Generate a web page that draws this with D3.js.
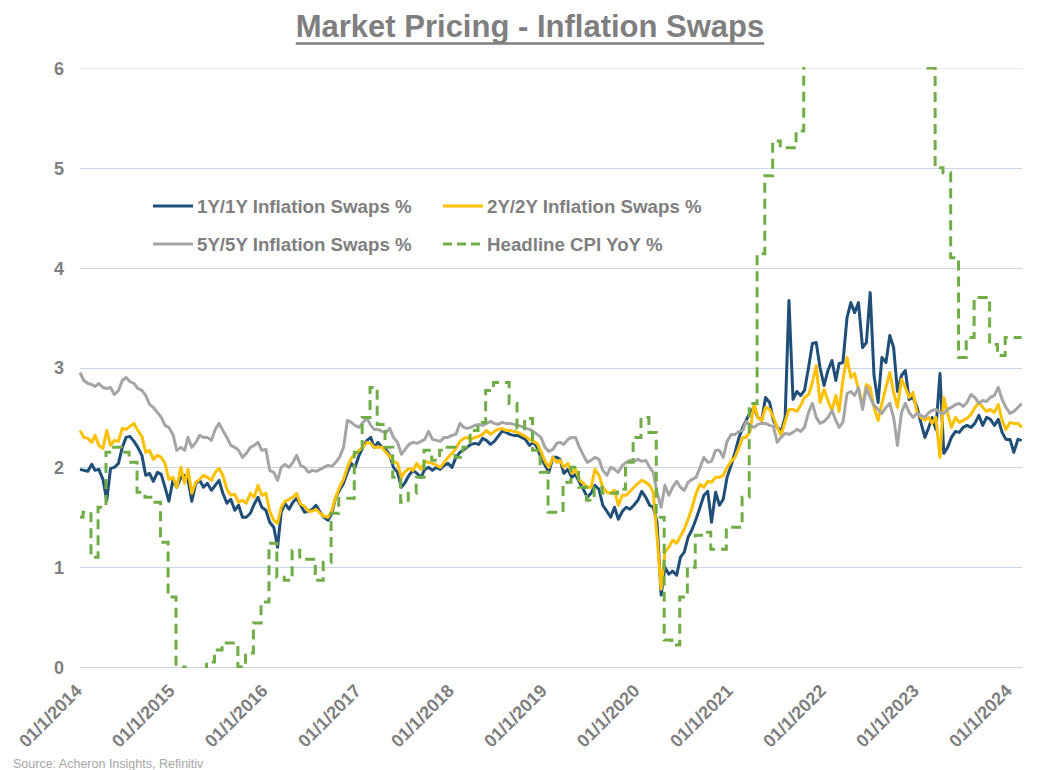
<!DOCTYPE html>
<html>
<head>
<meta charset="utf-8">
<script src="https://cdn.jsdelivr.net/npm/d3@7/dist/d3.min.js"></script>
<style>
  html, body { margin: 0; padding: 0; background: #ffffff; }
  svg { display: block; font-family: "Liberation Sans", Arial, sans-serif; }
</style>
</head>
<body>
<svg id="chart" width="1054" height="770"></svg>
<script>
// ---------------- DATA ----------------
const seriesNames = ["1Y/1Y Inflation Swaps %", "2Y/2Y Inflation Swaps %", "5Y/5Y Inflation Swaps %", "Headline CPI YoY %"];
const yTicks = [0, 1, 2, 3, 4, 5, 6];
const xTickYears = [2014, 2015, 2016, 2017, 2018, 2019, 2020, 2021, 2022, 2023, 2024];

// semi-monthly observations (1st and 16th of each month), Jan 2014 .. mid-Feb 2024
const swap1y1y = [
  1.98,1.97,1.96,2.03,1.97,1.98,1.88,1.67,1.99,2.00,2.04,2.20,2.30,2.31,2.26,2.20,2.12,1.92,1.94,1.86,1.95,1.93,1.80,1.66,
  1.87,1.80,1.90,1.92,1.88,1.66,1.84,1.87,1.80,1.84,1.77,1.82,1.87,1.74,1.64,1.68,1.57,1.62,1.50,1.50,1.54,1.63,1.70,1.60,
  1.57,1.45,1.40,1.20,1.55,1.64,1.58,1.65,1.69,1.62,1.55,1.56,1.58,1.62,1.55,1.50,1.47,1.54,1.70,1.77,1.84,1.95,2.04,2.00,
  2.12,2.20,2.27,2.30,2.20,2.25,2.20,2.18,2.12,2.00,1.95,1.80,1.85,1.92,1.97,1.94,1.90,1.98,2.00,1.97,2.00,1.98,2.02,2.04,
  2.00,2.10,2.15,2.18,2.20,2.23,2.24,2.23,2.29,2.27,2.23,2.26,2.31,2.36,2.35,2.33,2.32,2.32,2.30,2.28,2.22,2.25,2.20,2.10,
  2.02,1.95,2.10,2.10,2.08,1.94,1.98,1.90,1.93,1.85,1.78,1.70,1.74,1.82,1.78,1.62,1.56,1.50,1.60,1.48,1.56,1.60,1.58,1.62,
  1.67,1.76,1.70,1.62,1.60,1.45,0.72,1.00,0.93,0.96,0.92,1.10,1.15,1.30,1.38,1.48,1.60,1.72,1.76,1.45,1.75,1.62,1.68,1.90,
  2.02,2.15,2.30,2.40,2.47,2.55,2.60,2.50,2.47,2.70,2.65,2.47,2.40,2.36,2.50,3.67,2.68,2.76,2.72,2.77,3.00,3.24,3.25,3.00,
  2.82,2.97,3.07,2.87,3.04,3.05,3.50,3.65,3.55,3.65,3.20,3.25,3.75,2.92,2.65,3.10,3.05,3.32,3.20,2.76,2.92,2.97,2.68,2.70,
  2.60,2.45,2.30,2.40,2.50,2.38,2.94,2.14,2.20,2.30,2.36,2.35,2.40,2.42,2.40,2.44,2.52,2.42,2.50,2.48,2.42,2.48,2.35,2.28,
  2.28,2.15,2.28,2.27
];
const swap2y2y = [
  2.37,2.30,2.29,2.25,2.32,2.22,2.19,2.37,2.22,2.27,2.26,2.39,2.38,2.41,2.44,2.37,2.31,2.15,2.17,2.08,2.12,2.10,2.04,1.88,
  1.90,1.80,2.00,1.84,1.98,1.74,1.85,1.88,1.92,1.90,1.87,1.95,1.99,1.92,1.78,1.72,1.73,1.65,1.67,1.64,1.74,1.70,1.82,1.72,
  1.74,1.56,1.47,1.44,1.60,1.66,1.68,1.70,1.74,1.63,1.61,1.56,1.56,1.58,1.54,1.51,1.50,1.57,1.70,1.80,1.88,2.00,2.09,2.13,
  2.17,2.20,2.25,2.24,2.20,2.20,2.20,2.15,2.11,2.06,2.04,1.90,1.96,1.99,1.97,2.04,1.98,2.06,2.05,2.04,2.02,2.00,2.05,2.10,
  2.14,2.19,2.26,2.29,2.30,2.28,2.30,2.31,2.33,2.37,2.33,2.36,2.38,2.39,2.37,2.37,2.36,2.35,2.33,2.31,2.28,2.26,2.24,2.16,
  2.06,2.00,2.10,2.05,2.07,2.00,2.04,1.94,1.98,1.87,1.84,1.80,1.80,1.98,1.92,1.80,1.75,1.74,1.77,1.62,1.72,1.72,1.76,1.80,
  1.84,1.87,1.85,1.82,1.75,1.30,0.78,1.15,1.20,1.27,1.24,1.31,1.38,1.48,1.60,1.74,1.83,1.80,1.86,1.85,1.90,1.90,1.92,2.00,
  2.06,2.10,2.20,2.30,2.30,2.36,2.64,2.50,2.47,2.60,2.58,2.50,2.40,2.32,2.46,2.58,2.58,2.56,2.62,2.70,2.73,2.85,3.02,2.65,
  2.78,2.67,2.57,2.72,2.56,2.88,3.10,2.90,2.94,2.78,2.62,2.83,2.80,2.60,2.47,2.64,2.80,2.95,2.75,2.60,2.88,2.80,2.70,2.75,
  2.55,2.50,2.47,2.50,2.44,2.50,2.10,2.70,2.54,2.40,2.50,2.45,2.47,2.49,2.53,2.60,2.65,2.60,2.56,2.58,2.55,2.63,2.47,2.38,
  2.45,2.44,2.44,2.40
];
const swap5y5y = [
  2.95,2.87,2.84,2.83,2.81,2.84,2.80,2.79,2.80,2.73,2.77,2.87,2.90,2.86,2.84,2.79,2.77,2.72,2.63,2.60,2.55,2.50,2.42,2.40,
  2.33,2.17,2.20,2.17,2.30,2.20,2.25,2.32,2.30,2.30,2.27,2.38,2.44,2.37,2.30,2.22,2.20,2.17,2.10,2.14,2.20,2.22,2.25,2.17,
  2.18,1.97,1.95,1.87,2.00,2.03,2.00,2.05,2.12,2.02,2.00,1.95,1.97,1.96,1.98,2.00,2.02,2.01,2.05,2.10,2.20,2.47,2.45,2.42,
  2.40,2.45,2.49,2.42,2.38,2.38,2.36,2.35,2.39,2.30,2.25,2.13,2.18,2.23,2.25,2.24,2.26,2.28,2.36,2.28,2.27,2.26,2.30,2.30,
  2.32,2.33,2.44,2.40,2.39,2.40,2.42,2.43,2.42,2.44,2.46,2.44,2.43,2.45,2.44,2.44,2.43,2.42,2.41,2.39,2.38,2.36,2.33,2.30,
  2.20,2.16,2.18,2.24,2.25,2.23,2.28,2.30,2.30,2.20,2.12,2.05,2.07,2.10,2.08,1.97,1.92,2.00,1.98,1.95,2.02,2.05,2.07,2.06,
  2.08,2.06,2.07,2.00,1.95,1.75,1.60,1.82,1.72,1.80,1.86,1.80,1.77,1.85,1.88,1.90,2.00,2.10,2.05,2.06,2.17,2.17,2.10,2.26,
  2.33,2.33,2.36,2.37,2.46,2.42,2.40,2.43,2.44,2.44,2.42,2.41,2.25,2.30,2.34,2.33,2.35,2.38,2.36,2.40,2.55,2.64,2.50,2.44,
  2.46,2.50,2.57,2.47,2.40,2.45,2.74,2.76,2.72,2.80,2.58,2.80,2.70,2.62,2.58,2.54,2.60,2.64,2.50,2.22,2.55,2.64,2.55,2.50,
  2.54,2.52,2.50,2.55,2.57,2.58,2.55,2.54,2.58,2.60,2.63,2.64,2.61,2.65,2.73,2.70,2.64,2.67,2.66,2.70,2.72,2.80,2.68,2.60,
  2.54,2.56,2.60,2.64
];
// monthly headline CPI YoY, Jan 2014 .. Jan 2024 (published mid-month, held until next print)
const cpiOpening = 1.5;  // value carried in at 1 Jan 2014
const cpiYoY = [
  1.55,1.10,1.60,2.15,2.20,2.15,2.05,1.75,1.70,1.65,1.25,0.70,
  -0.10,0.00,-0.10,-0.20,0.05,0.17,0.24,0.24,0.00,0.14,0.44,0.65,
  1.24,0.90,0.87,1.17,1.08,1.08,0.87,1.05,1.54,1.69,1.69,2.15,
  2.50,2.80,2.43,2.20,1.90,1.65,1.74,1.90,2.17,2.07,2.17,2.20,
  2.10,2.20,2.37,2.45,2.77,2.85,2.85,2.64,2.39,2.49,2.17,1.95,
  1.55,1.55,1.85,2.00,1.80,1.67,1.80,1.74,1.74,1.78,2.05,2.30,
  2.50,2.35,1.50,0.27,0.22,0.70,1.00,1.32,1.35,1.18,1.18,1.40,
  1.40,1.70,2.64,4.14,4.92,5.27,5.20,5.20,5.37,6.20,6.80,7.00,
  7.50,7.90,8.50,8.30,8.60,9.10,8.50,8.30,8.20,7.70,7.10,6.50,
  6.40,6.00,5.00,4.95,4.10,3.10,3.30,3.70,3.70,3.23,3.12,3.30,
  3.30
];

// ---------------- LAYOUT / STYLE ----------------
const W = 1054, H = 770;
const plot = { left: 80, right: 1022, top: 68, bottom: 667 };
const colors = { c1: "#1f4e79", c2: "#ffc000", c5: "#a5a5a5", cpi: "#70ad47", text: "#7f7f7f", grid: "#c9d7e6" };

const svg = d3.select("#chart");
svg.append("rect").attr("width", W).attr("height", H).attr("fill", "#ffffff");

const t0 = new Date(Date.UTC(2014, 0, 1));
const x = d3.scaleUtc()
  .domain([t0, new Date(Date.UTC(2024, 0, 1))])
  .range([80, 1010]);
const y = d3.scaleLinear().domain([0, 6]).range([plot.bottom, plot.top]);

// observation dates
const semiMonthDate = i => new Date(Date.UTC(2014, Math.floor(i / 2), i % 2 ? 16 : 1));
const swapDates = swap1y1y.map((_, i) => semiMonthDate(i));
const endDate = swapDates[swapDates.length - 1];
const cpiPoints = [{ d: t0, v: cpiOpening }]
  .concat(cpiYoY.map((v, k) => ({ d: new Date(Date.UTC(2014, k, 13)), v })))
  .filter(p => p.d <= endDate);
cpiPoints.push({ d: endDate, v: cpiPoints[cpiPoints.length - 1].v });

// gridlines
const grid = svg.append("g");
grid.selectAll("line").data(yTicks).enter().append("line")
  .attr("x1", plot.left).attr("x2", plot.right)
  .attr("y1", d => Math.round(y(d)) + 0.5).attr("y2", d => Math.round(y(d)) + 0.5)
  .attr("stroke", d => d === 6 ? "#e6edf5" : colors.grid)
  .attr("stroke-width", 1);

// y axis labels
const yAxis = d3.axisLeft(y).tickValues(yTicks).tickSize(0).tickPadding(0).tickFormat(d3.format("d"));
const gy = svg.append("g").attr("transform", "translate(64,0)").call(yAxis);
gy.select(".domain").remove();
gy.selectAll("text")
  .attr("fill", colors.text).attr("font-size", "18px").attr("font-weight", "bold")
  .attr("font-family", "'Liberation Sans', Arial, sans-serif").attr("dy", "0.36em");

// x axis labels
const xAxis = d3.axisBottom(x)
  .tickValues(xTickYears.map(yr => new Date(Date.UTC(yr, 0, 1))))
  .tickSize(0).tickPadding(0)
  .tickFormat(d3.utcFormat("%d/%-m/%Y"));
const gx = svg.append("g").call(xAxis);
gx.select(".domain").remove();
gx.selectAll(".tick").attr("transform", d => `translate(${x(d) + 3},692)`);
gx.selectAll("text")
  .attr("fill", colors.text).attr("font-size", "18px").attr("font-weight", "bold")
  .attr("font-family", "'Liberation Sans', Arial, sans-serif")
  .attr("text-anchor", "end").attr("x", 0).attr("y", 0).attr("dy", 0)
  .attr("transform", "rotate(-45)");

// clip
svg.append("clipPath").attr("id", "plotclip").append("rect")
  .attr("x", plot.left - 2).attr("y", plot.top - 1)
  .attr("width", plot.right - plot.left + 4).attr("height", plot.bottom - plot.top + 2);

const lines = svg.append("g").attr("clip-path", "url(#plotclip)");
const swapLine = d3.line().x((d, i) => x(swapDates[i])).y(d => y(d));

lines.append("path").datum(swap1y1y).attr("d", swapLine)
  .attr("fill", "none").attr("stroke", colors.c1).attr("stroke-width", 3).attr("stroke-linejoin", "round");
lines.append("path").datum(swap2y2y).attr("d", swapLine)
  .attr("fill", "none").attr("stroke", colors.c2).attr("stroke-width", 3).attr("stroke-linejoin", "round");
lines.append("path").datum(swap5y5y).attr("d", swapLine)
  .attr("fill", "none").attr("stroke", colors.c5).attr("stroke-width", 3).attr("stroke-linejoin", "round");

const cpiLine = d3.line().curve(d3.curveStepAfter).x(p => x(p.d)).y(p => y(p.v));
lines.append("path").datum(cpiPoints).attr("d", cpiLine)
  .attr("fill", "none").attr("stroke", colors.cpi).attr("stroke-width", 3)
  .attr("stroke-dasharray", "10,6");

// legend
const legendItems = [
  { name: seriesNames[0], color: colors.c1, dash: null, lx: 153, ly: 206 },
  { name: seriesNames[1], color: colors.c2, dash: null, lx: 443, ly: 206 },
  { name: seriesNames[2], color: colors.c5, dash: null, lx: 153, ly: 244 },
  { name: seriesNames[3], color: colors.cpi, dash: "9,5", lx: 443, ly: 244 }
];
const lg = svg.append("g").selectAll("g").data(legendItems).enter().append("g")
  .attr("transform", d => `translate(${d.lx},${d.ly})`);
lg.append("line").attr("x1", 0).attr("x2", 40).attr("y1", 0).attr("y2", 0)
  .attr("stroke", d => d.color).attr("stroke-width", 3)
  .attr("stroke-dasharray", d => d.dash);
lg.append("text").attr("x", 44).attr("y", 0).attr("dy", "0.36em")
  .attr("fill", colors.text).attr("font-size", "18.7px").attr("font-weight", "bold")
  .text(d => d.name);

// title
const title = svg.append("text")
  .attr("x", 530).attr("y", 37).attr("text-anchor", "middle")
  .attr("fill", colors.text).attr("font-size", "31px").attr("font-weight", "bold")
  .text("Market Pricing - Inflation Swaps");
const tb = title.node().getBBox();
svg.append("line").attr("x1", tb.x).attr("x2", tb.x + tb.width)
  .attr("y1", 43.5).attr("y2", 43.5).attr("stroke", colors.text).attr("stroke-width", 2.5);

// source
svg.append("text").attr("x", 13).attr("y", 768)
  .attr("fill", "#a6a6a6").attr("font-size", "12.5px")
  .text("Source: Acheron Insights, Refinitiv");
</script>
</body>
</html>
